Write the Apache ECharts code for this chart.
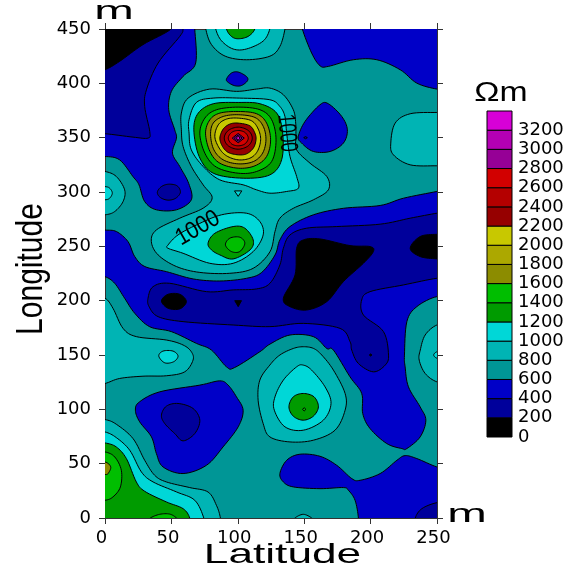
<!DOCTYPE html>
<html><head><meta charset="utf-8">
<style>html,body{margin:0;padding:0;background:#fff}#c{width:574px;height:571px}</style>
<script src="https://cdn.jsdelivr.net/npm/echarts@6/dist/echarts.min.js"></script>
</head><body><div id="c"></div>
<script>
// Resistivity class lower bounds and colours
const levels = [0,200,400,600,800,1000,1200,1400,1600,1800,2000,2200,2400,2600,2800,3000,3200];
const bandColors = ['#000000','#00009b','#0000c8','#009696','#00b4b4','#00d7d7','#009b00','#00be00','#8c8c00','#aca800','#c8c800','#960000','#b40000','#d20000','#960096','#b400b4','#d700d7'];
const latTicks = [0,50,100,150,200,250];
const lonTicks = [0,50,100,150,200,250,300,350,400,450];

// Contour outlines as [latitude, longitude]
const blueTopLeft = [[67.6,450],[68.3,418.7],[58.8,406.4],[50,392.6],[48,375.7],[52.5,357.2],[53.8,349.6],[50.8,335.8],[56.3,323.5],[63,308],[65,292.8],[53.8,283.6],[38.7,283.6],[29.9,291.2],[25.6,306.6],[21,314.3],[11,329.6],[0,332.7],[-10,332],[-10,460],[67,460]];
const blueSmallTop = [[91.5,404],[95.2,409.5],[100.3,410.4],[106.5,406.3],[107.3,402.4],[102.8,398],[97.7,397.8],[92.7,400.9]];
const blueTopRight = [[148.6,450],[155.6,427.9],[161.9,416.2],[168.2,415.6],[187,421.7],[204.7,421.7],[222.3,412.5],[234.8,400.2],[249.9,394.7],[260,394],[260,460],[148,460]];
const blueRightBlob = [[145.6,351],[150.6,364.9],[161.9,380.3],[168.2,381.2],[178.3,369.5],[182.5,357.2],[179.5,345],[169.5,337.3],[156.9,337.3],[148.1,345]];
const blueBand = [[-10,266],[0,265],[8.6,263.6],[17.3,254.4],[22.4,240.6],[30,231.4],[46.3,226.7],[66.4,220],[86.5,218.1],[106.6,220.6],[118,226],[128,242],[131.7,255.9],[139.3,268.2],[156.9,279],[179.5,285],[207.2,287.6],[224.8,294.3],[249.9,300.5],[260,303],[260,200],[249.9,203.7],[234.8,194.5],[227.3,180.7],[225.5,149.9],[226,139.1],[228.5,120.7],[237.3,102.3],[241.6,90],[237.3,74.6],[227.3,63.9],[223.5,63.9],[212.2,68.5],[199.6,82.3],[194.1,96.1],[193.3,114.6],[184.5,129.9],[172,154.5],[167,156],[156.9,166.9],[139.3,168.4],[124.2,160],[116.6,153],[97.7,138.5],[91.5,139.1],[80.2,154.5],[68.8,160.7],[50,171.5],[33.7,176],[22.4,188.4],[14.8,202.2],[7.3,216],[0,222.1],[-10,224]];
const blueBottomBlob = [[22.9,99.2],[26,106.9],[41.2,116.1],[71.4,122.3],[86.4,126.2],[92.7,122.3],[99,111.5],[104,99.2],[100.3,83.9],[88.9,65.4],[76.4,48.5],[58.8,40.9],[43.7,47],[38.7,59.3],[35,74.6],[26.1,88.5]];
const blueBottomRight = [[131.7,40.9],[136.8,53.1],[146.8,58.7],[161.9,56.8],[174.5,48.5],[185.8,36.3],[192.1,34.7],[207.2,40.9],[219.8,53.1],[226,57.4],[234.8,54.7],[249.9,47],[260,45],[260,-10],[190,-10],[190.8,0],[188.3,16.3],[183.3,25.5],[179.5,28],[161.9,27],[141.8,28.6],[134.3,33.2]];

const navyTopLeft = [[0,353.6],[21.1,350.5],[32.4,349.6],[33.7,355.7],[29.9,378.7],[31.2,394],[40,418.7],[56.3,443.2],[58.8,450],[59,460],[-10,460],[-10,353]];
const navySmall = [[39.4,299.8],[42.5,305],[48,307.2],[54.3,305.7],[56.8,299.8],[53.3,294.3],[47.5,292.5],[41.7,294.9]];
const navyBand = [[32.4,202.2],[36.2,212.9],[48.7,216],[76.4,208.3],[96.5,209.9],[114.1,210.8],[124.2,216],[131.7,232.9],[134.3,248.2],[139.3,260.5],[151.9,266.7],[174.5,268.2],[207.2,270.4],[229.8,275.9],[249.9,280.5],[260,282],[260,220],[249.9,220.6],[224.8,214.5],[199.6,208.3],[193.3,200.6],[194.6,186.8],[209.7,171.5],[213.5,149.9],[211,140.7],[202.1,134.5],[190.8,142.2],[185.8,154.5],[184.5,162.3],[177,174.5],[149.3,179.1],[124.2,176.1],[96.5,177.6],[58.8,180.7],[40,185.3],[33.2,194.5]];
const navyBottomBlob = [[42.5,94.6],[46.2,102.9],[55,105.4],[66.3,100.8],[71.4,90],[67.6,77.7],[58.8,71],[52.5,77.7],[45,86.9]];
const navyBottomRight = [[233.6,0],[238.6,8.6],[249.9,14.1],[260,14],[260,-10],[233,-10]];
const navyDotRight = [[149.6,350],[151,351],[152.4,350],[151,349]];

const blackTopLeft = [[0,412.5],[11,420.2],[28.6,435.6],[49.7,450],[50,460],[-10,460],[-10,410]];
const blackMain = [[134.3,202.2],[143.1,223.7],[144.3,248.2],[149.3,255.9],[161.9,256.8],[184.5,250.7],[199.6,249.8],[202.1,245.2],[194.6,234.4],[179.5,217.5],[167,199.1],[151.9,191.4],[139.3,194.5]];
const blackRight = [[249.9,261.1],[237.3,259],[229.8,248.2],[237.3,240.6],[249.9,238.4],[260,238],[260,261]];
const blackLeft = [[42.5,199.7],[47.5,205.9],[56.3,205.9],[61.3,199.1],[56.3,192.4],[47.5,193]];
const blackTri = [[97.7,200],[102.8,200],[100.3,194.5]];
const blackDot = [[199,150],[200,151],[201,150],[200,149]];

const lightTop = [[75.9,460],[75.9,450],[80.2,435.6],[90.5,425],[106.5,421.7],[124.2,425],[131.7,434],[135.5,450],[135.5,460]];
const lightCentral = [[124.2,395.6],[134.3,389.5],[141.8,375.7],[143.6,363.4],[143.8,351],[144.3,338.8],[154.4,326.5],[167,314.3],[168.2,302],[156.9,292.8],[141.8,285],[131.7,275.9],[128,263.6],[124.2,245],[111.6,229.8],[94,225.2],[71.4,226],[53.8,231.4],[40,242.1],[34.9,254.4],[38.7,265.1],[56.3,275.9],[73.9,285.1],[80.7,294.9],[73.9,306.6],[65,323.5],[58.8,341.9],[57.5,357.2],[57.5,372.6],[62.6,386.4],[78.9,394.7],[99,392.6],[114,394.7]];
const lightRightBlob = [[249.9,373.2],[229.8,372],[218.5,363.4],[215.2,345],[217.2,334.2],[229.8,325],[249.9,324.1],[260,324],[260,373]];
const lightLeftTop = [[0,318.9],[8.5,314.3],[14.8,302],[13.6,291.2],[7.3,282],[0,279],[-10,279],[-10,319]];
const lightLeftBand = [[0,202.2],[6,193],[13.6,174.5],[23.6,166.9],[46.2,163.8],[58.8,159.2],[65,153],[66.3,145.3],[60,134.5],[46.2,130.9],[28.6,130.5],[11,128.4],[0,123.8],[-10,123],[-10,203]];
const lightCenterLow = [[141.8,156],[149.3,157.6],[156.9,156.1],[163.2,150],[172,136.1],[180.8,114.6],[180.8,99.2],[173.2,80.8],[156.9,71.6],[139.3,70],[124.2,74.6],[119.1,86.9],[115.3,108.4],[116.6,126.9],[124.1,140.7],[131.7,150]];
const lightRight = [[249.9,125.3],[241.1,133],[236.6,145.3],[237.4,154.5],[241.1,168.4],[249.9,177.6],[260,178],[260,125]];
const lightBottomLeft = [[0,90.6],[8.5,86.3],[21.1,73.1],[29.9,53.1],[37.4,39.3],[46.2,33.2],[63.8,28],[77.6,23.9],[83.9,11.7],[86.9,0],[87,-10],[-10,-10],[-10,91]];
const lightBottomMid = [[143,-3],[143,0],[149.3,3.4],[155.6,0],[155.6,-3]];

const cyanTop = [[83.4,460],[83.4,450],[87.7,439.2],[96.5,431.6],[106.5,431.6],[119.1,438.9],[124.1,450],[124.1,460]];
const cyanPeak = [[63.3,366.5],[68.8,382.4],[81.4,386.4],[101.5,386.4],[124.1,384.9],[131.7,378.7],[135.5,369.5],[136.8,354.2],[139.3,332.7],[144.3,314.3],[145.6,303.5],[136.8,300.5],[124.2,298.9],[114.1,302],[104,306.6],[86.4,311.2],[73.9,323.5],[65,338.8],[63.3,354.2]];
const cyanLower = [[47.5,251.3],[55,260.5],[69.1,269.8],[87.7,279],[106.5,280.5],[116.6,272.8],[119.1,260.5],[111.6,245.2],[96.5,234.4],[78.9,234.4],[58.8,243.6],[47.5,248.2]];
const cyanTriangle = [[97.5,301],[103,301],[100.3,296]];
const cyanLeftTop = [[0,305],[3.5,303.5],[5.5,299],[3.5,294.3],[0,292.8],[-10,292],[-10,306]];
const cyanLeftBand = [[40.5,149],[43.7,153.6],[51.2,153.6],[55,149],[51.7,143.8],[45,142.8]];
const cyanCenterLow = [[149.3,140.7],[155.6,136.1],[165.7,120.7],[170.2,105.4],[164.4,90],[149.3,80.8],[135.5,83.9],[127.5,99.2],[128,111.5],[134.3,126.9],[144.3,139.1]];
const cyanRightDot = [[250,153],[247.5,150],[250,147],[255,147],[255,153]];
const cyanBottomLeft = [[0,79.2],[8.5,74],[18.6,62.4],[27.4,42.4],[36.2,33.2],[53.8,24],[67.6,16.3],[74.4,0],[75,-10],[-10,-10],[-10,80]];

const greenTop = [[91.5,460],[91.5,450],[95.2,443.2],[100.3,441],[107.8,443.2],[112.8,450],[112.8,460]];
const greenPeak = [[66.9,357.2],[70.2,372.6],[81.5,381.2],[100.3,382.4],[116.7,381.2],[129.3,372.6],[133.8,354.2],[133,329.6],[124.2,315.8],[104.1,312.7],[81.5,317.3],[70.9,332.7]];
const greenLower = [[77.6,252.9],[82.7,262],[96.5,268.2],[105.3,266.7],[111.6,255.9],[109.2,246.7],[96.5,238.4],[86.5,242.1],[80.2,246.7]];
const greenCenterLow = [[138.5,102.3],[141.8,111.5],[149.3,114.6],[157.4,111.5],[160.7,102.3],[156.9,93.7],[149.3,90],[141.8,93.7]];
const greenBottomLeft = [[0,69.1],[8.5,65.4],[16.1,54.7],[23.6,33.2],[29.9,24.6],[46.2,14.8],[58.8,8.6],[63.8,0],[64,-10],[-10,-10],[-10,70]];

const lime1400Peak = [[71.4,354.2],[75.2,368],[84,375.7],[100.3,378.1],[116.7,375.7],[125.5,366.5],[128.8,348],[125.5,328.1],[114.2,318.9],[100.3,317.3],[84,322.8],[75.2,335.7]];
const lime1400Lower = [[90.7,251.3],[94,257.5],[101.5,258.4],[105.3,252.9],[101.5,245.2],[95.2,245.2]];
const lime1400Center = [[148.7,100],[150,101.5],[151.3,100],[150,98.5]];
const lime1400LeftSide = [[0,60.8],[7.3,56.2],[12.3,43.9],[11.6,28.6],[6,19.4],[0,16.3],[-10,16],[-10,61]];
const lime1400Bottom = [[34.2,-3],[34.2,0],[41.2,3.4],[48.7,3.6],[53.8,0],[53.8,-3]];

const olive1600Peak = [[75.7,354.2],[79,366.5],[86.5,372.6],[100.3,374.1],[114.2,372],[121.7,363.4],[124.7,348],[121.7,332.7],[112.9,324.1],[100.3,321.9],[86.5,326.5],[79,337.3]];
const olive1600Left = [[0,51.6],[4.3,47],[2.3,40.9],[0,40],[-10,40],[-10,52]];
const olive1800Peak = [[79.5,352.6],[81.5,363.4],[89,369.5],[100.3,371.1],[112.9,368.6],[119.2,360.3],[121.2,348],[118.7,335.8],[111.7,328],[100.3,325.9],[89,329.6],[82,338.8]];
const yellow2000Peak = [[82.7,351.1],[85.3,361.8],[91.5,367.1],[100.3,368],[110.4,365.5],[115.4,357.9],[117.2,348],[114.7,337.3],[109.1,331.1],[100.3,329.6],[91.5,333.3],[86,340.4]];
const red2200Peak = [[86.5,349.6],[89,357.9],[94,362.5],[100.3,363.4],[109.1,360.9],[112.9,354.2],[113.7,348],[111.7,340.4],[106.6,335.1],[100.3,334.2],[92.8,336.4],[88.5,341.9]];
const red2400Peak = [[89.8,349.6],[92.8,356.6],[100.3,359.7],[107.9,356.6],[110.9,349.6],[107.9,342.5],[100.3,339.4],[92.8,342.5]];
const red2600Peak = [[92.8,349.6],[95.3,354.8],[100.3,356.6],[105.4,354.8],[107.9,349.6],[105.4,344.3],[100.3,342.5],[95.3,344.3]];
const purple2800Peak = [[95.8,349.6],[100.3,353.9],[104.9,349.6],[100.3,345.3]];
const purple3000Peak = [[97.3,349.6],[100.3,352.4],[103.3,349.6],[100.3,346.8]];
const purple3200Peak = [[98.8,349.6],[100.3,351.3],[101.8,349.6],[100.3,347.9]];

const contourLabels = [['1000',136.8,354.2,-85,17,1.45],['1000',69.9,266.6,30,21,1.15]];

// Painted lowest nesting first: [index into levels, outline]
const regions = [
 ...[blueTopLeft,blueSmallTop,blueTopRight,blueRightBlob,blueBand,blueBottomBlob,blueBottomRight].map(p=>[2,p]),
 ...[navyTopLeft,navySmall,navyBand,navyBottomBlob,navyBottomRight,navyDotRight].map(p=>[1,p]),
 ...[blackTopLeft,blackMain,blackRight,blackLeft,blackTri,blackDot].map(p=>[0,p]),
 ...[lightTop,lightCentral,lightRightBlob,lightLeftTop,lightLeftBand,lightCenterLow,lightRight,lightBottomLeft,lightBottomMid].map(p=>[4,p]),
 ...[cyanTop,cyanPeak,cyanLower,cyanTriangle,cyanLeftTop,cyanLeftBand,cyanCenterLow,cyanRightDot,cyanBottomLeft].map(p=>[5,p]),
 ...[greenTop,greenPeak,greenLower,greenCenterLow,greenBottomLeft].map(p=>[6,p]),
 ...[lime1400Peak,lime1400Lower,lime1400Center,lime1400LeftSide,lime1400Bottom].map(p=>[7,p]),
 ...[olive1600Peak,olive1600Left].map(p=>[8,p]),
 [9,olive1800Peak],[10,yellow2000Peak],[11,red2200Peak],[12,red2400Peak],[13,red2600Peak],
 [14,purple2800Peak],[15,purple3000Peak],[16,purple3200Peak]
];

// Draw a closed outline as a round curve through its mapped pixel positions
function roundOutline(px){
  if(px.length<=4) return px;
  const n=px.length, out=[];
  for(let i=0;i<n;i++){
    const a=px[(i+n-1)%n],b=px[i],c=px[(i+1)%n],d=px[(i+2)%n];
    for(let s=0;s<8;s++){
      const t=s/8,t2=t*t,t3=t2*t;
      out.push([0,1].map(k=>0.5*(2*b[k]+(c[k]-a[k])*t+(2*a[k]-5*b[k]+4*c[k]-d[k])*t2+(3*b[k]-a[k]-3*c[k]+d[k])*t3)));
    }
  }
  return out;
}

const tickFont = {fontFamily:'DejaVu Sans',fontSize:18,color:'#000'};
const titleFont = 'Liberation Sans';
function sideAxis(extra){
  return Object.assign({type:'value',gridIndex:0,axisLine:{show:true,onZero:false,lineStyle:{color:'#333',width:1}},
    axisTick:{show:true,inside:false,length:6,lineStyle:{color:'#333',width:1}},splitLine:{show:false}},extra);
}
const chart = echarts.init(document.getElementById('c'),null,{renderer:'canvas'});
chart.setOption({
  animation:false,
  backgroundColor:'#fff',
  grid:[
    {left:105,top:29,width:332,height:489,show:true,backgroundColor:bandColors[3],borderWidth:0},
    {left:487,top:111,width:25,height:326,show:false}
  ],
  xAxis:[
    sideAxis({position:'bottom',min:0,max:250,interval:50,axisLabel:Object.assign({margin:11,padding:[0,7,0,0],hideOverlap:false,showMinLabel:true,showMaxLabel:true},tickFont)}),
    sideAxis({position:'top',min:0,max:250,interval:50,axisLabel:{show:false}}),
    {type:'value',gridIndex:1,min:0,max:1,show:false}
  ],
  yAxis:[
    sideAxis({position:'left',min:0,max:450,interval:50,axisLabel:Object.assign({margin:14,showMinLabel:true,showMaxLabel:true},tickFont)}),
    sideAxis({position:'right',min:0,max:450,interval:50,axisLabel:{show:false}}),
    {type:'value',gridIndex:1,position:'right',min:0,max:3400,interval:200,splitLine:{show:false},
     axisLine:{show:false},axisTick:{show:false},
     axisLabel:Object.assign({margin:6,showMinLabel:true,showMaxLabel:true,formatter:v=>v>3200?'':String(v)},tickFont)}
  ],
  series:[
    {type:'custom',xAxisIndex:0,yAxisIndex:0,clip:true,silent:true,z:2,
     data:regions.map((r,i)=>[i,r[0]]),
     renderItem(params,api){
       const r = regions[api.value(0)];
       return {type:'polygon',shape:{points:roundOutline(r[1].map(p=>api.coord(p)))},
         style:{fill:bandColors[r[0]],stroke:'#000',lineWidth:1}};
     }},
    {type:'custom',xAxisIndex:0,yAxisIndex:0,clip:false,silent:true,z:3,
     data:contourLabels.map((l,i)=>[i,l[1],l[2]]),
     renderItem(params,api){
       const l = contourLabels[api.value(0)];
       const c = api.coord([l[1],l[2]]);
       return {type:'text',x:c[0],y:c[1],rotation:l[3]*Math.PI/180,scaleY:l[5],
         style:{text:l[0],fontFamily:titleFont,fontSize:l[4],fill:'#000',align:'center',verticalAlign:'middle'}};
     }},
    {type:'custom',xAxisIndex:2,yAxisIndex:2,silent:true,z:2,
     data:levels.map((v,i)=>[i,v]),
     renderItem(params,api){
       const v = api.value(1), a = api.coord([0,v]), b = api.coord([1,v+200]);
       return {type:'rect',shape:{x:a[0],y:b[1],width:b[0]-a[0],height:a[1]-b[1]},
         style:{fill:bandColors[api.value(0)],stroke:'#000',lineWidth:1}};
     }}
  ],
  graphic:[
    {type:'text',x:282.5,y:555,scaleX:1.58,style:{text:'Latitude',fontFamily:titleFont,fontSize:28,fill:'#000',align:'center',verticalAlign:'middle'}},
    {type:'text',x:32,y:269,rotation:Math.PI/2,scaleY:1.22,style:{text:'Longitude',fontFamily:titleFont,fontSize:30,fill:'#000',align:'center',verticalAlign:'middle'}},
    {type:'text',x:467,y:515,scaleX:1.9,style:{text:'m',fontFamily:titleFont,fontSize:25,fill:'#000',align:'center',verticalAlign:'middle'}},
    {type:'text',x:114,y:12,scaleX:1.9,style:{text:'m',fontFamily:titleFont,fontSize:25,fill:'#000',align:'center',verticalAlign:'middle'}},
    {type:'text',x:501,y:94,scaleX:1.25,style:{text:'Ωm',fontFamily:titleFont,fontSize:27,fill:'#000',align:'center',verticalAlign:'middle'}}
  ]
});
</script></body></html>
